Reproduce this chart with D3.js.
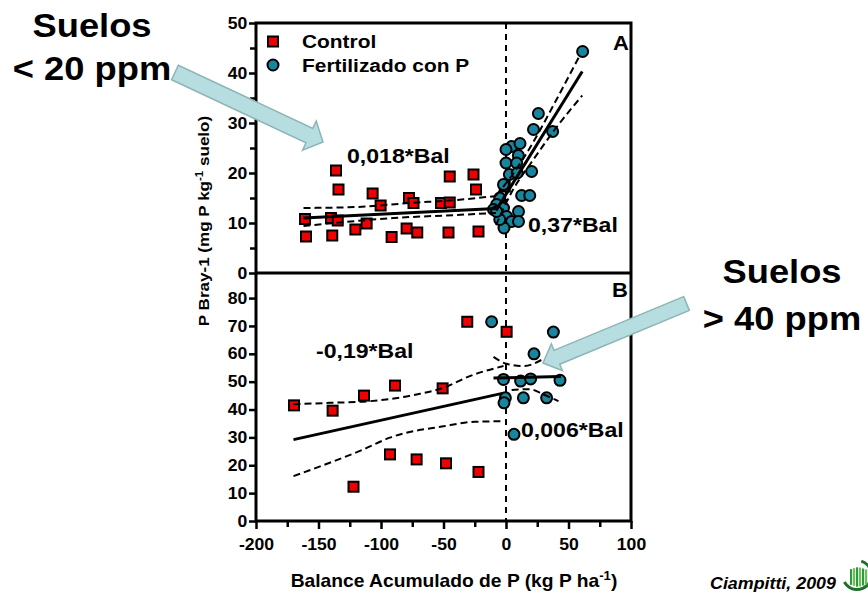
<!DOCTYPE html>
<html lang="es">
<head>
<meta charset="UTF-8">
<title>P Bray-1 vs Balance Acumulado de P</title>
<script src="https://d3js.org/d3.v7.min.js"></script>
<style>
  body { margin: 0; background: #fff; }
  svg { display: block; font-family: Arial, "Liberation Sans", sans-serif; font-weight: bold; }
</style>
</head>
<body>
<svg id="chart" width="868" height="596"></svg>
<script>
// ---- data: [balance, P Bray] ----
const xTicks = [-200, -150, -100, -50, 0, 50, 100];
const xMinor = [-175, -125, -75, -25, 25, 75];
const yTicksA = [0, 10, 20, 30, 40, 50];
const yMinorA = [5, 15, 25, 35, 45];
const yTicksB = [0, 10, 20, 30, 40, 50, 60, 70, 80];

// panel A: soils < 20 ppm
const controlA = [[-160.8,10.8],[-160,7.3],[-140,11],[-139,7.5],[-136,20.5],[-134,16.7],[-134.6,10.5],
  [-120.5,8.7],[-111.5,9.9],[-106.7,15.9],[-100.3,13.5],[-91.5,7.2],[-79.5,8.9],[-77.6,15],[-74,14],
  [-71,8.1],[-52,14],[-46,8.1],[-45,19.3],[-45,14.1],[-26,19.7],[-24,16.7],[-22,8.3],[-1,17.3]];
const fertA = [[61.3,44.3],[25.9,31.9],[22,28.7],[37.3,28.3],[4.5,25.3],[11.2,25.9],[0,24.7],[9.9,23.5],
  [0,22],[8.5,22],[2.7,19.7],[9,20],[20.5,20.3],[-2,17.7],[12.5,15.5],[19,15.5],[-5,15],[-7.5,13.7],
  [-2,13],[-10,12.7],[0.5,11.3],[10,12.3],[4.5,10.3],[10,10.3],[-1.6,9],[-5,10.7],[-7.5,12.3]];
const fitControlA = [[-162,11.0],[-8,12.9]];
const upperControlA = [[-162,13.0],[-120,13.2],[-77,14.0],[-40,14.6],[-8,15.4]];
const lowerControlA = [[-162,9.4],[-120,10.4],[-90,11.0],[-40,11.6],[-8,12.0]];
const fitFertA = [[-8,12.5],[61,40.3]];
const upperFertA = [[-8,15.5],[5,19.6],[20,25.4],[40,34.5],[59,43.5]];
const lowerFertA = [[-8,9.6],[5,16.4],[20,22.0],[40,29.0],[61,35.5]];

// panel B: soils > 40 ppm
const controlB = [[-169.6,41.5],[-138.7,39.6],[-113.6,45],[-88.8,48.6],[-50.7,47.6],[-122,12.3],
  [-92.8,23.9],[-71.5,22.1],[-48,20.7],[-22,17.6],[-31,71.5],[0.5,67.9]];
const fertB = [[-11.5,71.5],[37.9,67.8],[22.4,60],[-2,50.8],[11.7,50.2],[19.7,51],[43.2,50.5],
  [13.9,44.2],[32.5,44.2],[-0.5,44.2],[-1.6,42.4],[6.4,31.1]];
const fitControlB = [[-170,29.2],[-3,45.8]];
const upperControlB = [[-170,41.9],[-141,42.4],[-109,43],[-71.5,45.4],[-50,47.8],[-29,52],[-2,55.6]];
const lowerControlB = [[-170,16.1],[-141,20.9],[-114,25.7],[-93,29.9],[-50,34],[-25,35.6],[-2,35.8]];
const fitFertB = [[-10,51.3],[44,51.9]];
const upperFertB = [[-10,58.9],[0.5,56.4],[14,55.6],[30,58.2]];
const lowerFertB = [[4.5,47],[19,47.3],[30,45.4],[42,43]];

// ---- layout ----
const sx = 1.1;               // the original text is slightly wide
const red = "#f00000", teal = "#17869e";
const svg = d3.select("#chart");

const x = d3.scaleLinear().domain([-200, 100]).range([256, 631]);
const yA = d3.scaleLinear().domain([0, 50]).range([273, 23]);
const yB = d3.scaleLinear().domain([0, 89]).range([521, 273]);

function label(g, px, py, str, size, anchor) {
  return g.append("text")
    .attr("transform", `translate(${px},${py}) scale(${sx},1)`)
    .attr("font-size", size)
    .attr("text-anchor", anchor || "start")
    .text(str);
}

// axes
function styleAxis(g) {
  g.select(".domain").remove();
  g.selectAll(".tick line").attr("stroke", "#000").attr("stroke-width", 2.5);
  g.selectAll(".tick text").attr("font-size", 16).attr("font-weight", "bold")
    .attr("font-family", "Arial, 'Liberation Sans', sans-serif").attr("fill", "#000")
    .attr("transform", `scale(${sx},1)`);
}
const plain = d => String(d);   // hyphen minus, as in the original

svg.append("g").attr("transform", "translate(256,0)")
  .call(d3.axisLeft(yA).tickValues(yTicksA).tickSize(7).tickPadding(1).tickFormat(plain)).call(styleAxis);
svg.append("g").attr("transform", "translate(256,0)")
  .call(d3.axisLeft(yA).tickValues(yMinorA).tickSize(6).tickFormat("")).call(styleAxis);
svg.append("g").attr("transform", "translate(256,0)")
  .call(d3.axisLeft(yB).tickValues(yTicksB).tickSize(7).tickPadding(1).tickFormat(plain)).call(styleAxis);
svg.append("g").attr("transform", "translate(0,521)")
  .call(d3.axisBottom(x).tickValues(xTicks).tickSize(8).tickPadding(10).tickFormat(plain))
  .call(styleAxis);
svg.append("g").attr("transform", "translate(0,521)")
  .call(d3.axisBottom(x).tickValues(xMinor).tickSize(6).tickFormat("")).call(styleAxis);

// frame
const frame = svg.append("g").attr("stroke", "#000").attr("stroke-width", 3).attr("fill", "none");
frame.append("path").attr("d", `M${x(-200)},${yA(50)}H${x(100)}V${yB(0)}H${x(-200)}Z`);
frame.append("line").attr("x1", x(-200)).attr("x2", x(100)).attr("y1", yA(0)).attr("y2", yA(0));

// zero balance reference
svg.append("line").attr("x1", x(0)).attr("x2", x(0)).attr("y1", yA(50)).attr("y2", yB(0))
  .attr("stroke", "#000").attr("stroke-width", 2).attr("stroke-dasharray", "6,5");

// markers
function squares(data, y) {
  svg.append("g").selectAll("rect").data(data).join("rect")
    .attr("x", d => x(d[0]) - 5).attr("y", d => y(d[1]) - 5)
    .attr("width", 10).attr("height", 10)
    .attr("fill", red).attr("stroke", "#000").attr("stroke-width", 2);
}
function circles(data, y) {
  svg.append("g").selectAll("circle").data(data).join("circle")
    .attr("cx", d => x(d[0])).attr("cy", d => y(d[1])).attr("r", 5.5)
    .attr("fill", teal).attr("stroke", "#000").attr("stroke-width", 2);
}
squares(controlA, yA);
circles(fertA, yA);
squares(controlB, yB);
circles(fertB, yB);

// regressions and confidence bands
function curve(data, y, dashed) {
  const line = d3.line().x(d => x(d[0])).y(d => y(d[1])).curve(d3.curveMonotoneX);
  svg.append("path").attr("d", line(data)).attr("fill", "none").attr("stroke", "#000")
    .attr("stroke-width", dashed ? 2 : 3)
    .attr("stroke-dasharray", dashed ? "7,4" : null);
}
curve(fitControlA, yA); curve(upperControlA, yA, true); curve(lowerControlA, yA, true);
curve(fitFertA, yA); curve(upperFertA, yA, true); curve(lowerFertA, yA, true);
curve(fitControlB, yB); curve(upperControlB, yB, true); curve(lowerControlB, yB, true);
curve(fitFertB, yB); curve(upperFertB, yB, true); curve(lowerFertB, yB, true);

// legend
const leg = svg.append("g");
leg.append("rect").attr("x", 268).attr("y", 36.5).attr("width", 10).attr("height", 10)
  .attr("fill", red).attr("stroke", "#000").attr("stroke-width", 2);
leg.append("circle").attr("cx", 273).attr("cy", 65).attr("r", 5.5)
  .attr("fill", teal).attr("stroke", "#000").attr("stroke-width", 2);
label(leg, 302, 48, "Control", 19);
label(leg, 302, 72, "Fertilizado con P", 19);

// panel letters and slopes
label(svg, 613, 50, "A", 20);
label(svg, 612, 297, "B", 20);
label(svg, 347, 163, "0,018*Bal", 21);
label(svg, 528, 232, "0,37*Bal", 21);
label(svg, 316, 358, "-0,19*Bal", 21);
label(svg, 521, 437, "0,006*Bal", 21);

// axis titles
const xt = svg.append("text").attr("transform", `translate(454,587) scale(${sx},1)`)
  .attr("font-size", 17.5).attr("text-anchor", "middle");
xt.append("tspan").text("Balance Acumulado de P (kg P ha");
xt.append("tspan").attr("font-size", 12).attr("dy", -7).text("-1");
xt.append("tspan").attr("dy", 7).text(")");

const yt = svg.append("text").attr("transform", `translate(209,221) rotate(-90) scale(${sx},1)`)
  .attr("font-size", 15.5).attr("text-anchor", "middle");
yt.append("tspan").text("P Bray-1 (mg P kg");
yt.append("tspan").attr("font-size", 10.5).attr("dy", -6).text("-1");
yt.append("tspan").attr("dy", 6).text(" suelo)");

// soil group callouts
label(svg, 92, 37, "Suelos", 33, "middle");
label(svg, 92, 80, "< 20 ppm", 33, "middle");
label(svg, 782, 283, "Suelos", 33, "middle");
label(svg, 782, 330, "> 40 ppm", 33, "middle");

function arrow(tail, tip, shaft, head, headLen) {
  const dx = tip[0] - tail[0], dy = tip[1] - tail[1], len = Math.hypot(dx, dy);
  const u = [dx / len, dy / len], n = [-u[1], u[0]];
  const b = [tip[0] - u[0] * headLen, tip[1] - u[1] * headLen];
  const p = (o, k) => [o[0] + n[0] * k, o[1] + n[1] * k];
  const pts = [p(tail, shaft), p(b, shaft), p(b, head), tip, p(b, -head), p(b, -shaft), p(tail, -shaft)];
  svg.append("polygon").attr("points", pts.map(q => q.join(",")).join(" "))
    .attr("fill", "#b6dde0").attr("stroke", "#8fb4b6").attr("stroke-width", 1.5);
}
arrow([175, 72.5], [323, 142], 8, 16, 15);
arrow([686.5, 303.5], [543, 363], 7.5, 14.5, 15);

// source
svg.append("text").attr("transform", `translate(710,589) scale(1.05,1)`)
  .attr("font-size", 17).attr("font-style", "italic").text("Ciampitti, 2009");

// small logo
const logo = svg.append("g").attr("transform", "translate(857,575)");
logo.append("path").attr("d", d3.arc()({innerRadius: 13, outerRadius: 16, startAngle: 0.3, endAngle: 4.2}))
  .attr("fill", "#1f6e2c");
logo.selectAll("rect").data([-7, -4, -1, 2, 5, 8]).join("rect")
  .attr("x", d => d).attr("y", d => -8 + Math.abs(d) * 0.3).attr("width", 2.2)
  .attr("height", d => 20 - Math.abs(d) * 0.6).attr("fill", (d, i) => i % 2 ? "#6cbf5a" : "#2f9a3c");
</script>
</body>
</html>
